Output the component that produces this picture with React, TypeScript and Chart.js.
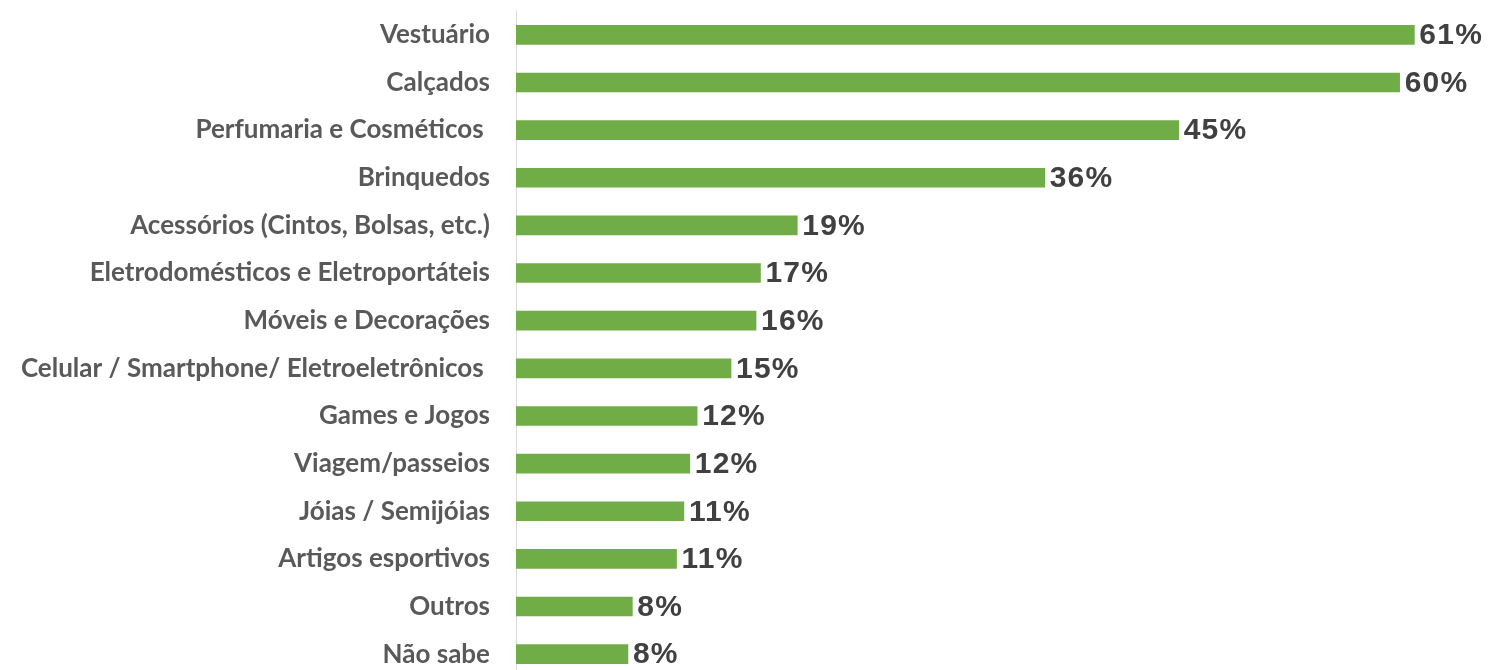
import React, { useEffect, useRef } from "react";
import { Chart, registerables } from "chart.js";

Chart.register(...registerables);

const categories = [
  "Vestuário",
  "Calçados",
  "Perfumaria e Cosméticos ",
  "Brinquedos",
  "Acessórios (Cintos, Bolsas, etc.)",
  "Eletrodomésticos e Eletroportáteis",
  "Móveis e Decorações",
  "Celular / Smartphone/ Eletroeletrônicos ",
  "Games e Jogos",
  "Viagem/passeios",
  "Jóias / Semijóias",
  "Artigos esportivos",
  "Outros",
  "Não sabe",
];

const values = [61, 60, 45, 35.9, 19.1, 16.6, 16.3, 14.6, 12.3, 11.8, 11.4, 10.9, 7.9, 7.6];

const valueLabels = ["61%", "60%", "45%", "36%", "19%", "17%", "16%", "15%", "12%", "12%", "11%", "11%", "8%", "8%"];

const BAR_COLOR = "#70AD47";
const LABEL_COLOR = "#595959";
const VALUE_COLOR = "#404040";

const valueLabelPlugin = {
  id: "valueLabels",
  afterDatasetsDraw(chart: any) {
    const ctx = chart.ctx;
    const meta = chart.getDatasetMeta(0);
    ctx.save();
    ctx.font = "bold 30px 'Liberation Sans', Arial, sans-serif";
    ctx.fillStyle = VALUE_COLOR;
    ctx.textAlign = "left";
    ctx.textBaseline = "middle";
    try {
      (ctx as any).letterSpacing = "1.2px";
    } catch (e) {}
    meta.data.forEach((el: any, i: number) => {
      ctx.fillText(valueLabels[i], el.x + 5, el.y + 1);
    });
    ctx.restore();
  },
};

export default function App() {
  const ref = useRef<HTMLCanvasElement | null>(null);

  useEffect(() => {
    if (!ref.current) return;
    const chart = new Chart(ref.current, {
      type: "bar",
      data: {
        labels: categories,
        datasets: [
          {
            data: values,
            backgroundColor: BAR_COLOR,
            barThickness: 19,
          },
        ],
      },
      options: {
        indexAxis: "y",
        animation: false,
        responsive: true,
        maintainAspectRatio: false,
        devicePixelRatio: 1,
        layout: { padding: { top: 11, left: 0, right: 0, bottom: 0 } },
        plugins: {
          legend: { display: false },
          tooltip: { enabled: false },
        },
        scales: {
          x: {
            display: false,
            min: 0,
            max: 66,
          },
          y: {
            type: "category",
            grid: { display: true, color: "rgba(0,0,0,0)", drawTicks: false },
            border: { display: true, color: "#D9D9D9", width: 1 },
            ticks: {
              color: LABEL_COLOR,
              padding: 26,
              font: { family: "Lato, 'Open Sans', sans-serif", weight: "bold", size: 26 },
            },
            afterFit: (scale: any) => {
              scale.width = 516;
              scale.paddingTop = 0;
              scale.paddingBottom = 0;
            },
          },
        },
      },
      plugins: [valueLabelPlugin],
    });
    return () => chart.destroy();
  }, []);

  return (
    <div
      style={{
        position: "fixed",
        left: 0,
        top: 0,
        width: 1488,
        height: 670,
        overflow: "hidden",
        background: "#ffffff",
      }}
    >
      <div style={{ position: "relative", width: 1488, height: 678 }}>
        <canvas ref={ref} />
      </div>
    </div>
  );
}
